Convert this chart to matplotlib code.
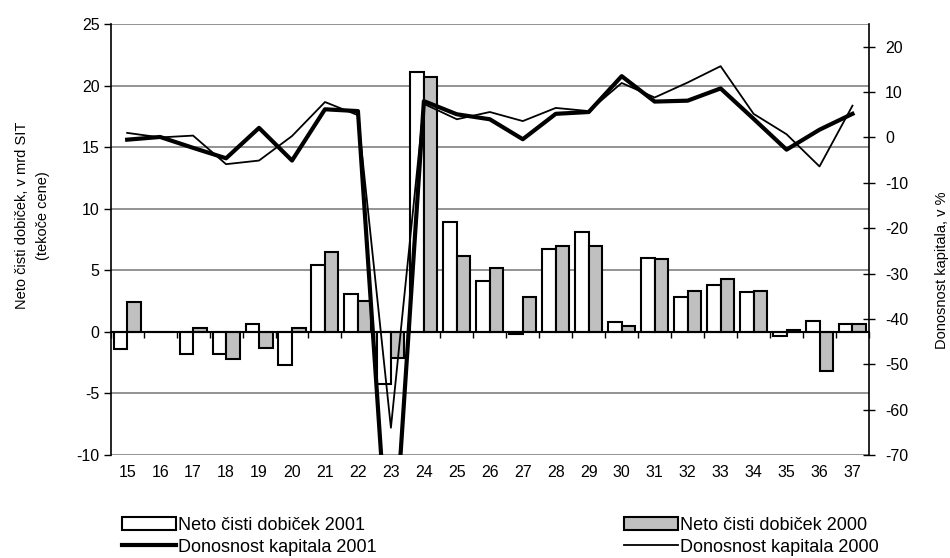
import numpy as np
import matplotlib
matplotlib.use('Agg')
import matplotlib.pyplot as plt

plt.rcParams['font.family'] = ['Liberation Sans', 'DejaVu Sans']
plt.rcParams['axes.unicode_minus'] = False

# podatki
kategorije = ['15', '16', '17', '18', '19', '20', '21', '22', '23', '24', '25', '26',
              '27', '28', '29', '30', '31', '32', '33', '34', '35', '36', '37']
dobicek_2001 = [-1.4, 0.0, -1.8, -1.8, 0.6, -2.7, 5.4, 3.1, -4.2, 21.1, 8.9, 4.1,
                -0.2, 6.7, 8.1, 0.8, 6.0, 2.8, 3.8, 3.2, -0.3, 0.9, 0.6]
dobicek_2000 = [2.4, 0.0, 0.3, -2.2, -1.3, 0.3, 6.5, 2.5, -2.1, 20.7, 6.2, 5.2,
                2.8, 7.0, 7.0, 0.5, 5.9, 3.3, 4.3, 3.3, 0.15, -3.2, 0.6]
donosnost_2001 = [-0.5, 0.1, -2.3, -4.6, 2.1, -5.1, 6.2, 5.8, -102.0, 8.0, 5.1, 4.0,
                  -0.4, 5.2, 5.6, 13.5, 7.9, 8.1, 10.8, 4.1, -2.7, 1.7, 5.2]
donosnost_2000 = [1.0, 0.0, 0.4, -5.9, -5.1, 0.3, 7.8, 4.9, -64.0, 7.4, 4.0, 5.6,
                  3.6, 6.5, 5.8, 12.0, 8.8, 12.1, 15.7, 5.2, 0.7, -6.4, 7.0]

x = np.arange(len(kategorije))
w = 0.41

fig = plt.figure(figsize=(9.5, 5.58), dpi=100)
ax = fig.add_axes([0.1165, 0.1846, 0.7982, 0.7724])

ax.bar(x - w / 2, dobicek_2001, w, color='white', edgecolor='black', linewidth=1.5,
       label='Neto čisti dobiček 2001', zorder=2)
ax.bar(x + w / 2, dobicek_2000, w, color='#c0c0c0', edgecolor='black', linewidth=1.5,
       label='Neto čisti dobiček 2000', zorder=2)

ax.set_xlim(-0.5, len(kategorije) - 0.5)
ax.set_ylim(-10, 25)
ax.set_yticks(np.arange(-10, 26, 5))
ax.yaxis.grid(True, color='#808080', linewidth=1.2)
ax.set_axisbelow(True)
ax.tick_params(axis='y', direction='out', length=5, width=1, pad=3, labelsize=11.5)

# os x na nicli, oznake spodaj
ax.spines['bottom'].set_position(('data', 0))
ax.spines['bottom'].set_linewidth(1.5)
ax.spines['top'].set_visible(False)
ax.spines['right'].set_visible(False)
ax.spines['left'].set_linewidth(1.2)
ax.set_xticks(np.arange(len(kategorije) + 1) - 0.5)
ax.set_xticklabels([])
ax.tick_params(axis='x', direction='out', length=4, width=1)

sec = ax.secondary_xaxis('bottom')
sec.set_xticks(x)
sec.set_xticklabels(kategorije)
sec.tick_params(length=0, pad=7, labelsize=11.5)
sec.spines['bottom'].set_visible(False)

ax.set_ylabel('Neto čisti dobiček, v mrd SIT\n(tekoče cene)', fontsize=10.5, linespacing=1.65)
ax.yaxis.set_label_coords(-0.080, 0.555)

ax2 = ax.twinx()
ax2.plot(x, donosnost_2001, color='black', linewidth=3, label='Donosnost kapitala 2001')
ax2.plot(x, donosnost_2000, color='black', linewidth=1.3, label='Donosnost kapitala 2000')
ax2.set_ylim(-70, 25)
ax2.set_yticks(np.arange(-70, 21, 10))
ax2.tick_params(axis='y', direction='inout', length=9, width=1, pad=7, labelsize=11.5)
for s in ['top', 'bottom', 'left']:
    ax2.spines[s].set_visible(False)
ax2.spines['right'].set_linewidth(1.2)
ax2.set_ylabel('Donosnost kapitala, v %', fontsize=10.5)
ax2.yaxis.set_label_coords(1.087, 0.429)

h1, l1 = ax.get_legend_handles_labels()
h2, l2 = ax2.get_legend_handles_labels()
handles = [h1[0], h2[0], h1[1], h2[1]]
labels = [l1[0], l2[0], l1[1], l2[1]]
fig.legend(handles, labels, ncol=2, loc='upper left', bbox_to_anchor=(0.128, 0.074),
           frameon=False, fontsize=13, handlelength=3.0, handletextpad=0.1,
           columnspacing=13.7, labelspacing=0.28, borderpad=0, borderaxespad=0)

fig.savefig('out.png', dpi=100)
